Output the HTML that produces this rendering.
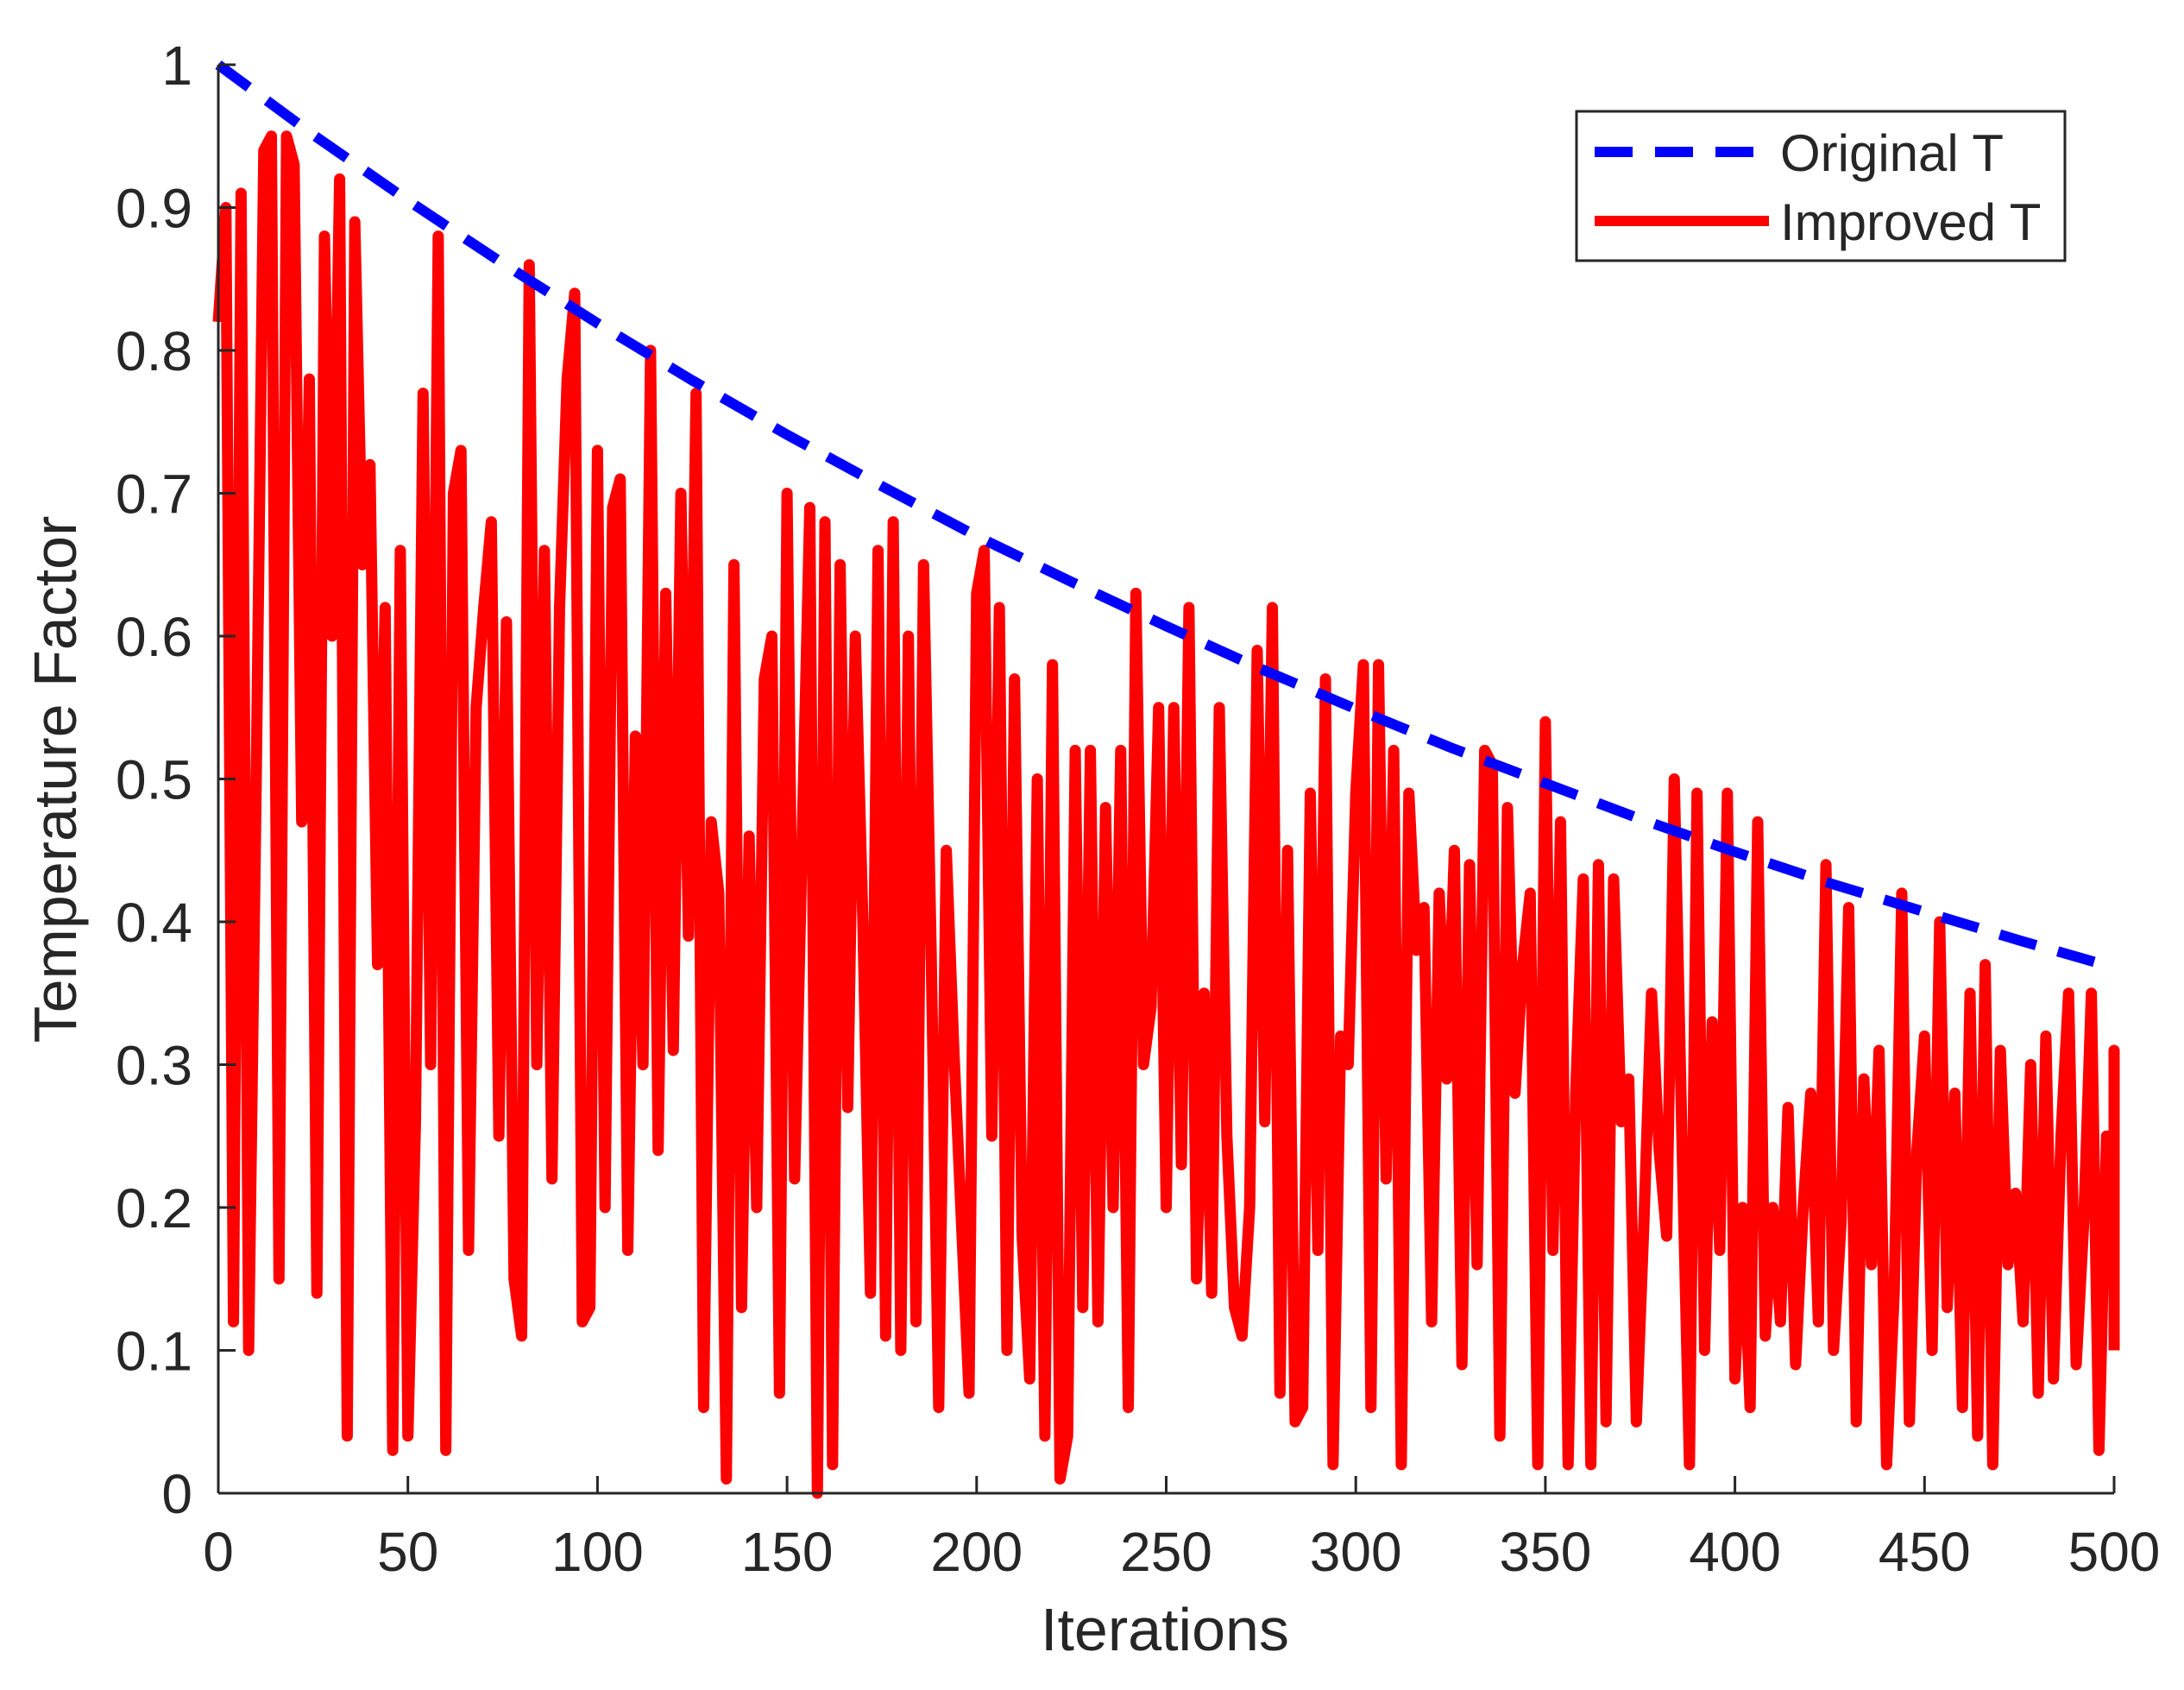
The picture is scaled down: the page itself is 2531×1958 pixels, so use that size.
<!DOCTYPE html>
<html><head><meta charset="utf-8"><style>
html,body{margin:0;padding:0;background:#fff;}
svg text{font-family:"Liberation Sans",Arial,sans-serif;fill:#262626;}
</style></head><body>
<svg id="chart" width="2531" height="1953" viewBox="0 0 2531 1953" xmlns="http://www.w3.org/2000/svg">
<g id="series"></g>
<g id="axes"></g>
<g id="legend">
  <rect x="1827" y="129" width="566" height="173" fill="#fff" stroke="#262626" stroke-width="3"/>
  <line x1="1848" y1="176" x2="2050" y2="176" stroke="#0000ff" stroke-width="12" stroke-dasharray="44 26"/>
  <text x="2063" y="198" font-size="60">Original T</text>
  <line x1="1848" y1="256" x2="2050" y2="256" stroke="#ff0000" stroke-width="12"/>
  <text x="2063" y="278" font-size="60">Improved T</text>
</g>
<text x="1350" y="1912" font-size="70" text-anchor="middle">Iterations</text>
<text transform="translate(88,903) rotate(-90)" font-size="70" text-anchor="middle">Temperature Factor</text>
</svg>
<script>
const xTicks=[0,50,100,150,200,250,300,350,400,450,500];
const yTicks=[0,0.1,0.2,0.3,0.4,0.5,0.6,0.7,0.8,0.9,1];
const yTickLabels=["0","0.1","0.2","0.3","0.4","0.5","0.6","0.7","0.8","0.9","1"];
const originalIter=[0,25,50,75,100,125,150,175,200,225,250,275,300,325,350,375,400,425,450,475,500];
const originalT=[1,.951,.905,.861,.819,.779,.741,.705,.670,.638,.607,.577,.549,.522,.497,.472,.449,.427,.407,.387,.368];
const improvedStep=2;
const improvedT=[
.82,.9,.12,.91,.1,.5,.94,.95,.15,.95,.93,.47,.78,.14,.88,.6,.92,.04,.89,.65,.72,
.37,.62,.03,.66,.04,.26,.77,.3,.88,.03,.7,.73,.17,.55,.62,.68,.25,.61,.15,.11,.86,
.3,.66,.22,.62,.78,.84,.12,.13,.73,.2,.69,.71,.17,.53,.3,.8,.24,.63,.31,.7,.39,.77,
.06,.47,.42,.01,.65,.13,.46,.2,.57,.6,.07,.7,.22,.46,.69,.0,.68,.02,.65,.27,.6,.4,
.14,.66,.11,.68,.1,.6,.12,.65,.38,.06,.45,.31,.19,.07,.63,.66,.25,.62,.1,.57,.18,.08,
.5,.04,.58,.01,.04,.52,.13,.52,.12,.48,.2,.52,.06,.63,.3,.34,.55,.2,.55,.23,.62,.15,
.35,.14,.55,.25,.13,.11,.2,.59,.26,.62,.07,.45,.05,.06,.49,.17,.57,.02,.32,.3,.49,
.58,.06,.58,.22,.52,.02,.49,.38,.41,.12,.42,.29,.45,.09,.44,.16,.52,.51,.04,.48,.28,
.37,.42,.02,.54,.17,.47,.02,.28,.43,.02,.44,.05,.43,.26,.29,.05,.19,.35,.24,.18,.5,.25,
.02,.49,.1,.33,.17,.49,.08,.2,.06,.47,.11,.2,.12,.27,.09,.2,.28,.12,.44,.1,.19,.41,.05,
.29,.16,.31,.02,.14,.42,.05,.24,.32,.1,.4,.13,.28,.06,.35,.04,.37,.02,.31,.16,.21,.12,.3,
.07,.32,.08,.25,.35,.09,.19,.35,.03,.25,.2,.31,.1
];
const X0=253,X1=2450,Y0=1730,Y1=75;
const xScale=v=>X0+(v-0)/(500-0)*(X1-X0);
const yScale=v=>Y0+(v-0)/(1-0)*(Y1-Y0);
const NS="http://www.w3.org/2000/svg";
function mk(tag,attrs,parent){const e=document.createElementNS(NS,tag);for(const k in attrs)e.setAttribute(k,attrs[k]);parent.appendChild(e);return e;}
const series=document.getElementById('series');
const axes=document.getElementById('axes');
let pts=improvedT.map((v,i)=>xScale(Math.min(i*improvedStep,500))+','+yScale(v)).join(' ');
const red=mk('polyline',{points:pts,fill:'none',stroke:'#ff0000','stroke-width':13,'stroke-linejoin':'round'},series);


let bpts=originalIter.map((k,i)=>xScale(k)+','+yScale(originalT[i])).join(' ');
const blue=mk('polyline',{points:bpts,fill:'none',stroke:'#0000ff','stroke-width':12,'stroke-dasharray':'44 26'},series);


const xa=mk('line',{x1:X0,y1:Y0,x2:X1,y2:Y0,stroke:'#262626','stroke-width':3},axes);


const ya=mk('line',{x1:X0,y1:Y0,x2:X0,y2:Y1,stroke:'#262626','stroke-width':3},axes);


xTicks.forEach(t=>{
  const x=xScale(t);
  const tk=mk('line',{x1:x,y1:Y0,x2:x,y2:Y0-20,stroke:'#262626','stroke-width':3},axes);
  
  
  const tx=mk('text',{x:x,y:Y0+90,'font-size':64,'text-anchor':'middle'},axes);
  tx.textContent=String(t);
  
  
});
yTicks.forEach((t,i)=>{
  const y=yScale(t);
  const tk=mk('line',{x1:X0,y1:y,x2:X0+20,y2:y,stroke:'#262626','stroke-width':3},axes);
  
  
  const tx=mk('text',{x:X0-30,y:y+23,'font-size':64,'text-anchor':'end'},axes);
  tx.textContent=yTickLabels[i];
  
  
});
</script>
</body></html>
